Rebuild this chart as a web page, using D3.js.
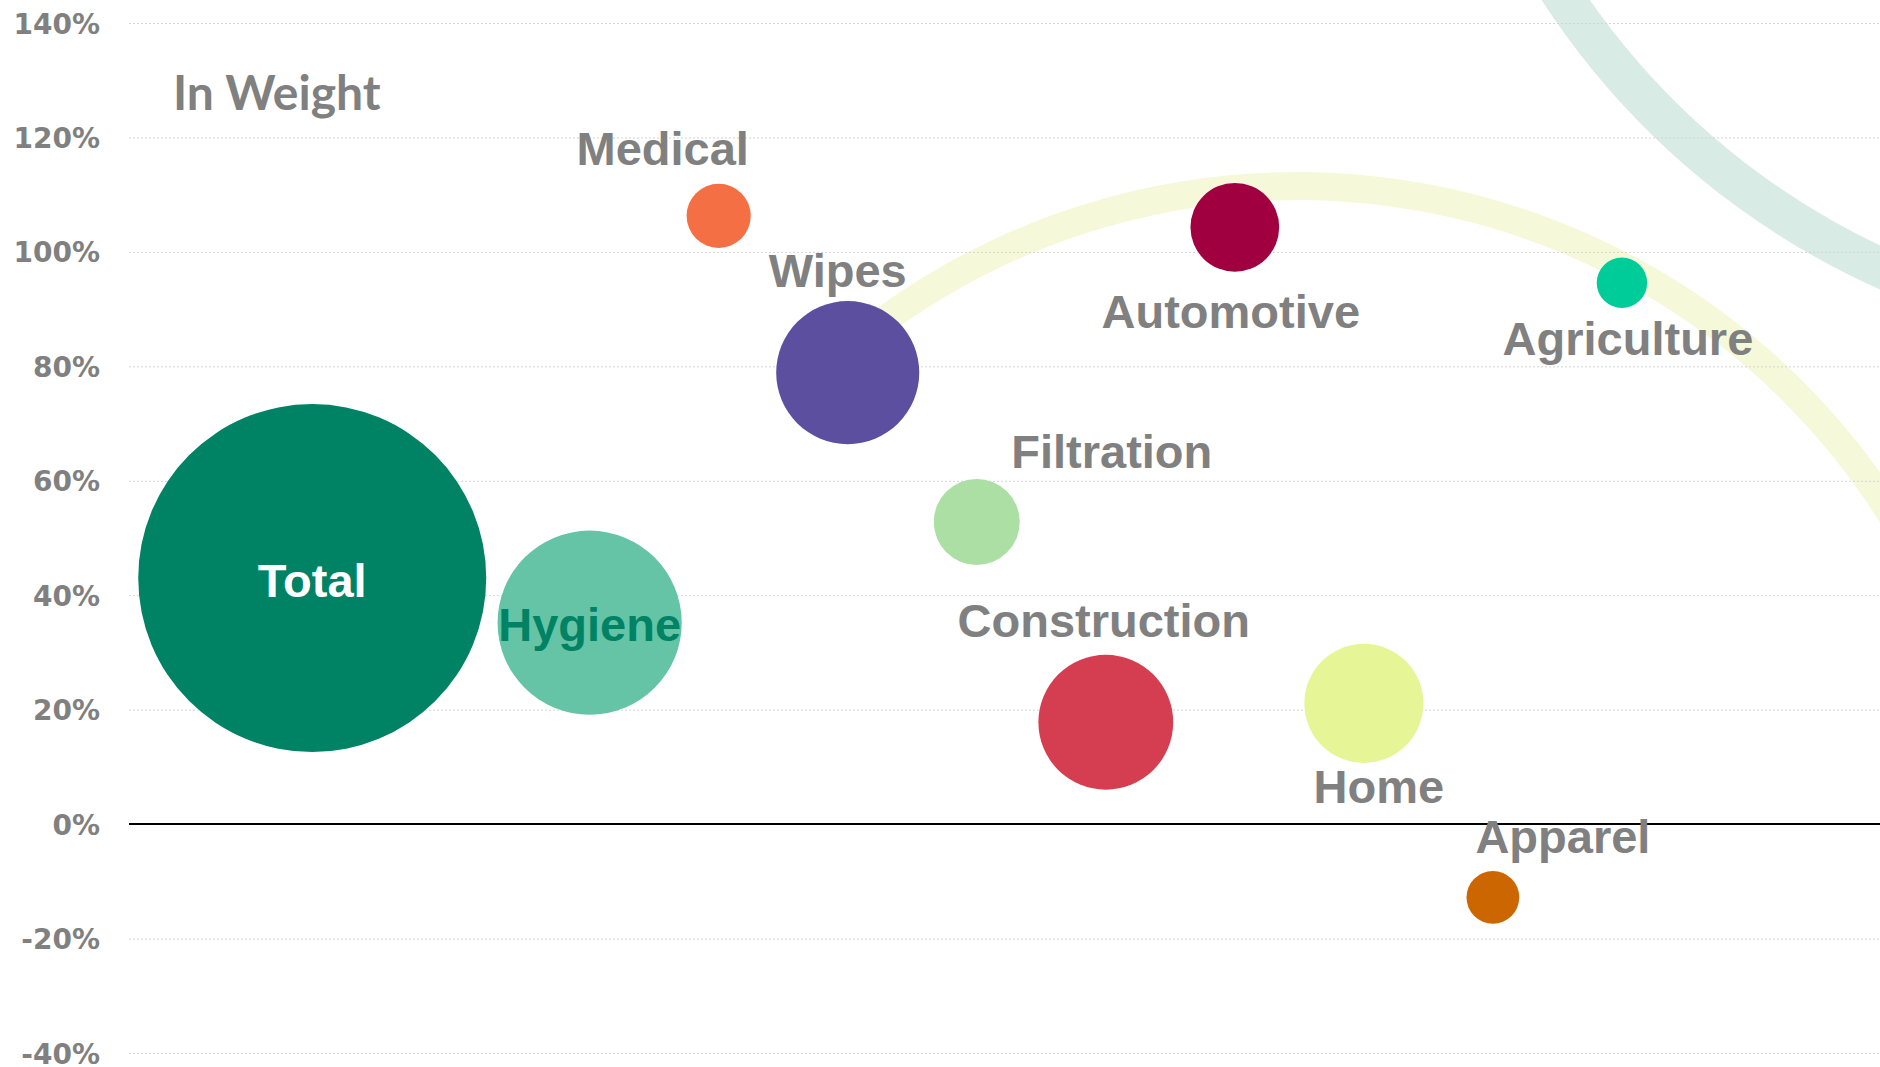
<!DOCTYPE html>
<html lang="en">
	<head>
		<meta charset="utf-8">
		<title>In Weight - bubble chart</title>
		<script type="text/javascript" src="https://cdnjs.cloudflare.com/ajax/libs/d3/7.8.5/d3.min.js"></script>
		<style>
			html, body {
				margin: 0;
				padding: 0;
				background-color: #ffffff;
			}
			#chart svg {
				display: block;
			}
			.tick-label {
				font-family: "DejaVu Sans", sans-serif;
				font-weight: bold;
				font-size: 28px;
				fill: #808080;
			}
			.bubble-label {
				font-family: "Liberation Sans", Arial, sans-serif;
				font-weight: bold;
				font-size: 47px;
				fill: #808080;
			}
			.title {
				font-family: Lato, sans-serif;
				font-weight: 700;
				font-size: 48px;
				fill: #808080;
			}
		</style>
	</head>

	<body>
		<div id="chart"></div>
		<script>
////////////////////////////////////////////////////////////////////////////////
//Data
////////////////////////////////////////////////////////////////////////////////

const categories = ["Total", "Hygiene", "Medical", "Wipes", "Filtration",
	"Construction", "Automotive", "Home", "Apparel", "Agriculture"];
const xValues = [-0.15, 2, 3, 4, 5, 6, 7, 8, 9, 10];
const growthPct = [43.0, 35.2, 106.3, 78.9, 52.8, 17.8, 104.3, 21.1, -12.8, 94.6];
const bubbleSizes = [100, 28.0, 3.4, 16.9, 6.1, 15.0, 6.5, 11.7, 2.3, 2.1];
const yTicks = [-40, -20, 0, 20, 40, 60, 80, 100, 120, 140];

const bubbleColors = ["#008264", "#66c4a6", "#f47044", "#5c4fa0", "#acdfa4",
	"#d43e50", "#a00040", "#e6f596", "#cc6600", "#00cc99"];

// where each label sits relative to its bubble centre (dx, baseline dy)
const labelOffsets = {
	Total: [0, 19], Hygiene: [0, 18], Medical: [-56, -51], Wipes: [-10, -86],
	Filtration: [135, -54], Construction: [-2, -85], Automotive: [-4, 101],
	Home: [15, 100], Apparel: [70, -44], Agriculture: [6, 72]
};

////////////////////////////////////////////////////////////////////////////////
//Layout
////////////////////////////////////////////////////////////////////////////////

const W = 1880, H = 1067;
const plotLeft = 129, plotRight = 1880;

const xScale = d3.scaleLinear()
	.domain([-1.57, 12])
	.range([plotLeft, plotRight]);
const yScale = d3.scaleLinear()
	.domain([-40, 140])
	.range([1053, 23]);
const rScale = d3.scaleSqrt()
	.domain([0, 100])
	.range([0, 174]);

const data = categories.map(function(c, i) {
	return {name: c, x: xValues[i], y: growthPct[i], size: bubbleSizes[i], color: bubbleColors[i]};
});

const svg = d3.select("#chart").append("svg")
	.attr("width", W)
	.attr("height", H)
	.attr("viewBox", "0 0 " + W + " " + H);

//decorative swooshes in the background
const swooshes = [
	{cx: 2198, cy: -425, r: 762, t: 40, a0: -2.85, a1: -1.95, color: "#d8ebe5"},
	{cx: 1297, cy: 888, r: 702, t: 28, a0: -0.63, a1: 1.25, color: "#f6f8da"}
];
svg.append("g").selectAll("path")
	.data(swooshes)
	.enter().append("path")
	.attr("transform", function(d) { return "translate(" + d.cx + "," + d.cy + ")"; })
	.attr("d", function(d) {
		return d3.arc()
			.innerRadius(d.r - d.t / 2)
			.outerRadius(d.r + d.t / 2)
			.startAngle(d.a0)
			.endAngle(d.a1)();
	})
	.attr("fill", function(d) { return d.color; });

//gridlines
svg.append("g")
	.selectAll("line")
	.data(yTicks.filter(function(d) { return d !== 0; }))
	.enter().append("line")
	.attr("x1", plotLeft)
	.attr("x2", plotRight)
	.attr("y1", function(d) { return yScale(d) + 0.5; })
	.attr("y2", function(d) { return yScale(d) + 0.5; })
	.attr("stroke", "#d4d4d4")
	.attr("stroke-width", 1)
	.attr("stroke-dasharray", "2,2");

//zero line
svg.append("line")
	.attr("x1", plotLeft)
	.attr("x2", plotRight)
	.attr("y1", yScale(0))
	.attr("y2", yScale(0))
	.attr("stroke", "#000000")
	.attr("stroke-width", 2);

//y axis labels
const yAxis = svg.append("g")
	.attr("transform", "translate(" + plotLeft + ",0)")
	.call(d3.axisLeft(yScale)
		.tickValues(yTicks)
		.tickSize(0)
		.tickPadding(29)
		.tickFormat(function(d) { return d + "%"; }));
yAxis.select(".domain").remove();
yAxis.selectAll("text")
	.attr("class", "tick-label")
	.attr("font-family", null)
	.attr("dy", "0.36em");

//bubbles
svg.append("g").selectAll("circle")
	.data(data)
	.enter().append("circle")
	.attr("cx", function(d) { return xScale(d.x); })
	.attr("cy", function(d) { return yScale(d.y); })
	.attr("r", function(d) { return rScale(d.size); })
	.attr("fill", function(d) { return d.color; });

//bubble labels
svg.append("g").selectAll("text")
	.data(data)
	.enter().append("text")
	.attr("class", "bubble-label")
	.attr("text-anchor", "middle")
	.attr("x", function(d) { return xScale(d.x) + labelOffsets[d.name][0]; })
	.attr("y", function(d) { return yScale(d.y) + labelOffsets[d.name][1]; })
	.style("fill", function(d) {
		if (d.name === "Total") return "#ffffff";
		if (d.name === "Hygiene") return "#008264";
		return null;
	})
	.text(function(d) { return d.name; });

//title
svg.append("text")
	.attr("class", "title")
	.attr("x", 173)
	.attr("y", 110)
	.text("In Weight");
		</script>
	</body>
</html>
